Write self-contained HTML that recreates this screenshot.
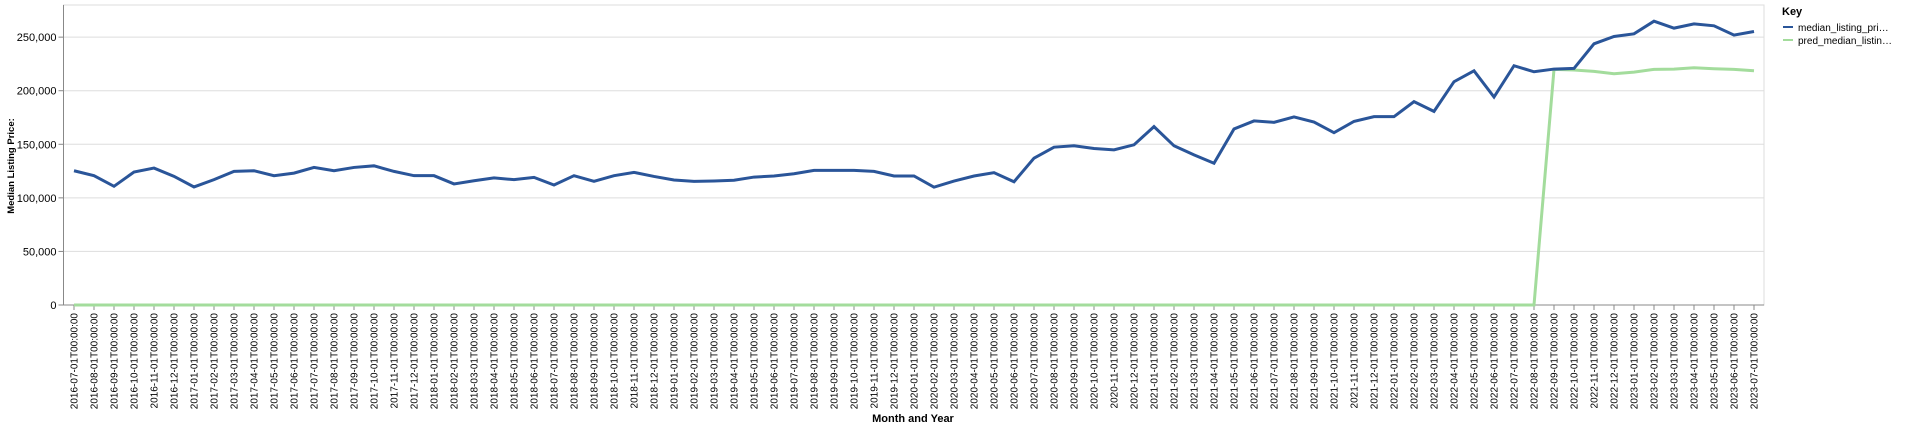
<!DOCTYPE html>
<html><head><meta charset="utf-8"><style>
html,body{margin:0;padding:0;background:#fff;width:1920px;height:429px;overflow:hidden}
svg{display:block;font-family:"Liberation Sans",sans-serif}
</style></head><body>
<svg id="chart" width="1920" height="429"></svg>
<script>
const months = [];
for (let k = 0; k < 85; k++) { const y = 2016 + Math.floor((6 + k) / 12), m = (6 + k) % 12 + 1; months.push(y + '-' + String(m).padStart(2, '0') + '-01T00:00:00'); }
const actualValues = [125300,120700,110800,124100,127800,120100,110200,117000,124700,125300,120700,123100,128400,125300,128400,129900,124700,120700,120700,113000,116000,118600,117000,119100,112000,120700,115400,120700,123800,120000,116700,115400,115700,116400,119400,120400,122500,125600,125600,125600,124700,120400,120400,110000,115700,120400,123500,115000,137000,147300,148600,146100,144800,149500,166500,148600,140100,132300,164300,171800,170500,175500,170800,160800,171400,175800,175800,189800,180700,208400,218600,194100,223300,217700,220200,220800,243800,250600,253100,264900,258400,262400,260600,251900,255300];
const predValues = [0,0,0,0,0,0,0,0,0,0,0,0,0,0,0,0,0,0,0,0,0,0,0,0,0,0,0,0,0,0,0,0,0,0,0,0,0,0,0,0,0,0,0,0,0,0,0,0,0,0,0,0,0,0,0,0,0,0,0,0,0,0,0,0,0,0,0,0,0,0,0,0,0,0,219900,219300,218000,215800,217400,219900,220200,221400,220500,219900,218600];
const yTicks = [0,50000,100000,150000,200000,250000];
const yMax = 280000;

const NS = 'http://www.w3.org/2000/svg';
const svg = document.getElementById('chart');
const L = 63.5, R = 1764, T = 5, B = 305;
const xs = i => 74 + i * (1754 - 74) / (months.length - 1);
const ys = v => B - v / yMax * (B - T);
function el(tag, attrs, parent) { const e = document.createElementNS(NS, tag); for (const k in attrs) e.setAttribute(k, attrs[k]); (parent || svg).appendChild(e); return e; }

const frame = el('rect', {x: L, y: T, width: R - L, height: B - T, fill: 'none', stroke: '#ddd'});



yTicks.forEach(v => {
  const y = ys(v);
  const g = el('line', {x1: L, x2: R, y1: y, y2: y, stroke: '#ddd'});
  
  
  el('line', {x1: L - 5, x2: L, y1: y, y2: y, stroke: '#888'});
  const t = el('text', {x: L - 7, y: y + 4, 'text-anchor': 'end', 'font-size': 11, fill: '#000'});
  t.textContent = v.toLocaleString('en-US');
  
  
});
el('line', {x1: L, x2: L, y1: T, y2: B, stroke: '#888'});
el('line', {x1: L, x2: R, y1: B, y2: B, stroke: '#888'});

months.forEach((m, i) => {
  const x = xs(i);
  el('line', {x1: x, x2: x, y1: B, y2: B + 5, stroke: '#888'});
  const t = el('text', {transform: `translate(${x + 3.5},${B + 8}) rotate(-90)`, 'text-anchor': 'end', 'font-size': 10, fill: '#000'});
  t.textContent = m;
  
  
});

function line(vals, color, name) {
  const p = el('path', {d: vals.map((v, i) => (i ? 'L' : 'M') + xs(i) + ',' + ys(v)).join(''), fill: 'none', stroke: color, 'stroke-width': 3, 'stroke-linejoin': 'miter'});
  
  
}
line(predValues, '#a3dc9c', 'pred-median-listing-price-line');
line(actualValues, '#2a5599', 'median-listing-price-line');

const yt = el('text', {transform: 'translate(14,166) rotate(-90)', 'text-anchor': 'middle', 'font-size': 9.5, 'font-weight': 'bold'});
yt.textContent = 'Median Listing Price:';


const xt = el('text', {x: 913, y: 422, 'text-anchor': 'middle', 'font-size': 11, 'font-weight': 'bold'});
xt.textContent = 'Month and Year';



const kt = el('text', {x: 1782, y: 15, 'font-size': 11, 'font-weight': 'bold'});
kt.textContent = 'Key';


[['median_listing_pri…', '#2a5599'], ['pred_median_listin…', '#a3dc9c']].forEach((d, i) => {
  const y = 27 + i * 13;
  const g = el('g', {});
  
  
  el('line', {x1: 1783, x2: 1793, y1: y, y2: y, stroke: d[1], 'stroke-width': 2}, g);
  const t = el('text', {x: 1798, y: y + 4, 'font-size': 10, fill: '#000'}, g);
  t.textContent = d[0];
});
</script>
</body></html>
